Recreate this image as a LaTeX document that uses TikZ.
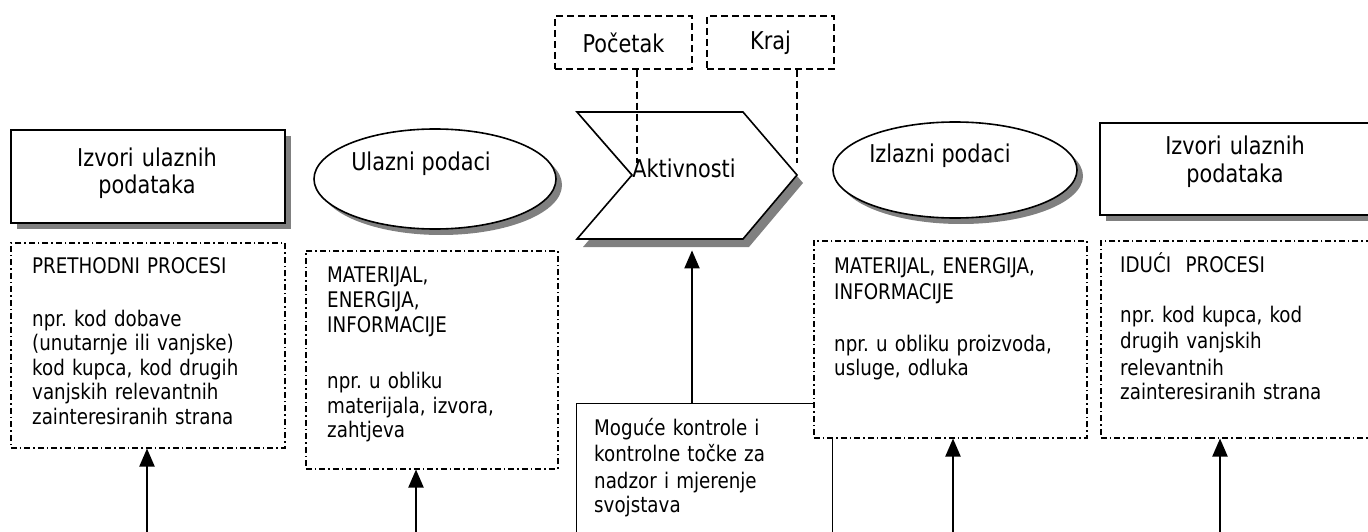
\documentclass[tikz,border=0pt]{standalone}
\usepackage{fontspec}
\setmainfont{DejaVu Sans}[FakeStretch=0.85]
\usetikzlibrary{arrows.meta,shadows,shapes.geometric}
\newcommand\ftitle{\fontsize{24.5}{28}\selectfont}
\newcommand\fbody{\fontsize{21.5}{24.5}\selectfont}
\frenchspacing
\begin{document}
\begin{tikzpicture}[x=1pt,y=-1pt,
  shad/.style={drop shadow={shadow xshift=6pt,shadow yshift=-6pt,fill=black!50,opacity=1}},
  titlebox/.style={draw,line width=2.2pt,fill=white,shad,inner sep=0,anchor=north west},
  ell/.style={draw,ellipse,line width=1.6pt,fill=white,shad,inner sep=0},
  ddbox/.style={draw,line width=1.5pt,dash pattern=on 6pt off 3pt on 1.5pt off 3pt,fill=white,inner sep=0,anchor=north west},
  dbox/.style={draw,line width=1.5pt,dash pattern=on 7pt off 4pt,fill=white,inner sep=0,font=\ftitle},
  dline/.style={line width=1.5pt,dash pattern=on 7pt off 4pt},
  arr/.style={line width=2pt,-{Triangle[length=18pt,width=15pt]}},
  ttxt/.style={font=\ftitle,align=center,text width=220pt,inner sep=0,anchor=base},
  btxt/.style={font=\fbody,align=left,text width=270pt,inner sep=0,anchor=base west}
]
\useasboundingbox (0,0) rectangle (1368,532);
\clip (0,0) rectangle (1368,532);

% title boxes
\node[titlebox,minimum width=274pt,minimum height=93pt] (lb) at (10,129) {};
\node[ttxt] (lbt) at (147,166) {Izvori ulaznih\\podataka};
\node[titlebox,minimum width=281pt,minimum height=92pt] (rb) at (1099,122) {};
\node[ttxt] (rbt) at (1235,155) {Izvori ulaznih\\podataka};

% ellipses
\node[ell,minimum width=242pt,minimum height=100pt] (e1) at (435,179) {};
\node[font=\ftitle,anchor=base,inner sep=0] (e1t) at (421,170) {Ulazni podaci};
\node[ell,minimum width=244pt,minimum height=96pt] (e2) at (955,170) {};
\node[font=\ftitle,anchor=base,inner sep=0] (e2t) at (940,162) {Izlazni podaci};

% chevron
\draw[line width=1.6pt,fill=white,drop shadow={shadow xshift=6pt,shadow yshift=-8pt,fill=black!50,opacity=1}]
  (577,112) -- (743,112) -- (797,175) -- (743,239) -- (577,239) -- (632,175) -- cycle;
\node[minimum width=220pt,minimum height=138pt,inner sep=0,anchor=north west] (act) at (577,112) {};
\node[font=\ftitle,anchor=base,inner sep=0] (actt) at (684,177) {Aktivnosti};

% start / end
\node[dbox,minimum width=137pt,minimum height=53pt] (poc) at (623.5,42.5) {Početak};
\node[dbox,minimum width=127pt,minimum height=53pt] (kraj) at (770.5,42.5) {Kraj};
\coordinate (pend) at (637,163);
\coordinate (kend) at (797,163);
\draw[dline] (pend |- poc.south) -- (pend);
\draw[dline] (kend |- kraj.south) -- (kend);

% control box
\node[draw,line width=1pt,fill=white,inner sep=0,anchor=north west,minimum width=256pt,minimum height=150pt] (ctl) at (576,403) {};
\node[font=\fbody,align=left,text width=230pt,inner sep=0,anchor=base west] (ctlt) at (594,435)
  {\fontsize{21.5}{26.5}\selectfont Moguće kontrole i\\kontrolne točke za\\nadzor i mjerenje\\svojstava};

% dash-dot boxes
\node[ddbox,minimum width=274pt,minimum height=205pt] (b1) at (10,242) {};
\node[btxt] (b1t) at (32,273) {PRETHODNI PROCESI\\[28.7pt]npr. kod dobave\\(unutarnje ili vanjske)\\kod kupca, kod drugih\\vanjskih relevantnih\\zainteresiranih strana};

\node[ddbox,minimum width=252pt,minimum height=218pt] (b2) at (305,250) {};
\node[btxt] (b2t) at (327,282) {\fontsize{21.5}{25}\selectfont MATERIJAL,\\ENERGIJA,\\INFORMACIJE\\[31pt]npr. u obliku\\materijala, izvora,\\zahtjeva};

\node[ddbox,minimum width=273pt,minimum height=197pt] (b3) at (813,240) {};
\node[btxt] (b3t) at (834,273) {\fontsize{21.5}{26}\selectfont MATERIJAL, ENERGIJA,\\INFORMACIJE\\[26pt]npr. u obliku proizvoda,\\usluge, odluka};

\node[ddbox,minimum width=280pt,minimum height=197pt] (b4) at (1100,240) {};
\node[btxt] (b4t) at (1120,272) {\fontsize{21.5}{26.5}\selectfont IDUĆI\ \ PROCESI\\[23.5pt]npr. kod kupca, kod\\drugih vanjskih\\relevantnih\\zainteresiranih strana};

% arrows
\coordinate (a1) at (147,532);
\coordinate (a2) at (416,532);
\coordinate (a3) at (953,532);
\coordinate (a4) at (1220,532);
\coordinate (ac) at (692,0);
\draw[arr] (a1) -- (a1 |- b1.south);
\draw[arr] (a2) -- (a2 |- b2.south);
\draw[arr] (a3) -- (a3 |- b3.south);
\draw[arr] (a4) -- (a4 |- b4.south);
\draw[arr] (ac |- ctl.north) -- (ac |- act.south);
\end{tikzpicture}
\end{document}
